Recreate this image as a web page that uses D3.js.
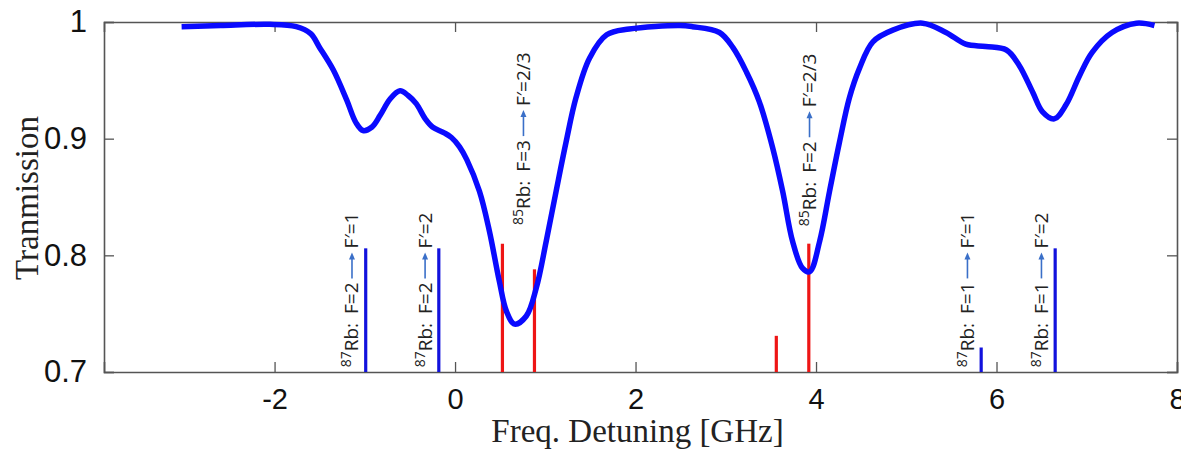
<!DOCTYPE html>
<html>
<head>
<meta charset="utf-8">
<script src="https://cdn.jsdelivr.net/npm/d3@7"></script>
<style>
  body { margin: 0; background: #fff; }
  svg { display: block; }
</style>
</head>
<body>
<div id="graphDiv"></div>
<script>
// transmission spectrum
var freq  = [-3.03, -2.6, -2.05, -1.76, -1.6, -1.5, -1.35, -1.2, -1.1, -1.02, -0.92, -0.83, -0.72, -0.61, -0.52, -0.43, -0.33, -0.25, -0.12, -0.04,
             0.05, 0.13, 0.27, 0.38, 0.49, 0.57, 0.66, 0.79, 0.9, 1.01, 1.12, 1.23, 1.34, 1.49, 1.68, 1.93, 2.49, 2.63, 2.93, 3.08,
             3.23, 3.37, 3.52, 3.63, 3.74, 3.85, 3.93, 4.04, 4.15, 4.26, 4.37, 4.48, 4.63, 4.85, 5.18, 5.44, 5.66, 5.88, 6.11, 6.25,
             6.4, 6.51, 6.64, 6.77, 6.92, 7.06, 7.28, 7.55, 7.75];
var trans = [0.996, 0.997, 0.998, 0.996, 0.99, 0.978, 0.959, 0.933, 0.914, 0.907, 0.910, 0.920, 0.934, 0.941, 0.937, 0.930, 0.917, 0.910, 0.905, 0.901,
             0.893, 0.882, 0.855, 0.821, 0.778, 0.752, 0.741, 0.748, 0.772, 0.812, 0.855, 0.897, 0.935, 0.969, 0.989, 0.994, 0.997, 0.996, 0.991, 0.978,
             0.957, 0.932, 0.892, 0.855, 0.812, 0.789, 0.786, 0.812, 0.855, 0.897, 0.935, 0.960, 0.983, 0.993, 0.999, 0.991, 0.981, 0.979, 0.976, 0.963,
             0.940, 0.923, 0.917, 0.929, 0.954, 0.974, 0.991, 0.999, 0.997];

// transition sticks
var rb87Freq = [-0.99, -0.18, 5.83, 6.65];
var rb87Top  = [0.806, 0.806, 0.721, 0.806];
var rb85Freq = [0.525, 0.88, 3.56, 3.92];
var rb85Top  = [0.810, 0.788, 0.731, 0.810];

// labels
var labelIso   = ["87", "87", "85", "85", "87", "87"];
var labelLower = ["F=2", "F=2", "F=3", "F=2", "F=1", "F=1"];
var labelUpper = ["F\u2032=1", "F\u2032=2", "F\u2032=2/3", "F\u2032=2/3", "F\u2032=1", "F\u2032=2"];
var labelFreq  = [-1.07, -0.26, 0.83, 4.0, 5.75, 6.57];
var labelStart = [0.704, 0.704, 0.826, 0.825, 0.704, 0.704];

var xTicks = [-2, 0, 2, 4, 6, 8];
var yTicks = [0.7, 0.8, 0.9, 1];

var outerWidth = 1181, outerHeight = 452;
var margin = {top: 22, right: 4, bottom: 80, left: 104},
    innerWidth = 1177 - margin.left,
    innerHeight = 372 - margin.top;

var svg = d3.select("#graphDiv")
    .append("svg")
    .attr("width", outerWidth)
    .attr("height", outerHeight)
    .append("g")
    .attr("transform", "translate(" + margin.left + "," + margin.top + ")");

var x = d3.scaleLinear().domain([-3.89, 8]).range([0, innerWidth]);
var y = d3.scaleLinear().domain([0.7, 1]).range([innerHeight, 0]);

var axisColor = "#555";

// bottom axis with inward ticks
var gx = svg.append("g")
    .attr("transform", "translate(0," + innerHeight + ")")
    .call(d3.axisBottom(x).tickValues(xTicks).tickSize(-10).tickPadding(16).tickFormat(function(d) { return String(d); }));
gx.selectAll("text")
    .style("font-family", "'Liberation Sans', Arial, sans-serif")
    .style("font-size", "29px")
    .attr("fill", "#111");

// left axis
var gy = svg.append("g")
    .call(d3.axisLeft(y).tickValues(yTicks).tickSize(-10).tickPadding(17).tickFormat(function(d) { return d === 1 ? "1" : d3.format(".1f")(d); }));
gy.selectAll("text")
    .style("font-family", "'Liberation Sans', Arial, sans-serif")
    .style("font-size", "31px")
    .attr("fill", "#111");

// top and right: ticks only
svg.append("g")
    .call(d3.axisTop(x).tickValues(xTicks).tickSize(-10).tickFormat(""));
svg.append("g")
    .attr("transform", "translate(" + innerWidth + ",0)")
    .call(d3.axisRight(y).tickValues(yTicks).tickSize(-10).tickFormat(""));

svg.selectAll(".domain").attr("stroke", axisColor).attr("stroke-width", 1.6);
svg.selectAll(".tick line").attr("stroke", axisColor).attr("stroke-width", 1.3);

// sticks
svg.selectAll("line.rb87")
    .data(rb87Freq)
    .enter()
    .append("line")
    .attr("class", "rb87")
    .attr("x1", function(d) { return x(d); })
    .attr("x2", function(d) { return x(d); })
    .attr("y1", y(0.7))
    .attr("y2", function(d, i) { return y(rb87Top[i]); })
    .attr("stroke", "#1212dd")
    .attr("stroke-width", 3.2);

svg.selectAll("line.rb85")
    .data(rb85Freq)
    .enter()
    .append("line")
    .attr("class", "rb85")
    .attr("x1", function(d) { return x(d); })
    .attr("x2", function(d) { return x(d); })
    .attr("y1", y(0.7))
    .attr("y2", function(d, i) { return y(rb85Top[i]); })
    .attr("stroke", "#ee1515")
    .attr("stroke-width", 3.2);

// spectrum
var pts = freq.map(function(f, i) { return [f, trans[i]]; });
svg.append("path")
    .datum(pts)
    .attr("fill", "none")
    .attr("stroke", "#0a0aff")
    .attr("stroke-width", 5.5)
    .attr("stroke-linejoin", "round")
    .attr("d", d3.line()
        .x(function(d) { return x(d[0]); })
        .y(function(d) { return y(d[1]); })
        .curve(d3.curveCatmullRom.alpha(0.5)));

// rotated transition labels: "^iso Rb:  F=a" + arrow + "F'=b"
var lblFont = "'Open Sans', 'Noto Sans', sans-serif";
var arrowColor = "#3a6fc8";
var groups = svg.selectAll("g.lbl")
    .data(labelIso)
    .enter()
    .append("g")
    .attr("class", "lbl")
    .attr("transform", function(d, i) { return "translate(" + x(labelFreq[i]) + "," + y(labelStart[i]) + ")rotate(-90)"; });

groups.each(function(d, i) {
    var g = d3.select(this);
    var t1 = g.append("text")
        .style("font-family", lblFont)
        .style("font-size", "19px")
        .attr("fill", "#222");
    t1.append("tspan").attr("dy", -7).style("font-size", "14px").text(d);
    t1.append("tspan").attr("dy", 7).text("Rb:");
    t1.append("tspan").attr("dx", 9).text(labelLower[i]);
    var bb = t1.node().getBBox();
    var len = bb.x + bb.width;
    var a0 = len + 4, a1 = len + 30;
    g.append("line")
        .attr("x1", a0).attr("x2", a1 - 5)
        .attr("y1", -6.5).attr("y2", -6.5)
        .attr("stroke", arrowColor)
        .attr("stroke-width", 1.6);
    g.append("path")
        .attr("d", "M" + a1 + "," + (-6.5) + "L" + (a1 - 7) + "," + (-9.5) + "L" + (a1 - 7) + "," + (-3.5) + "Z")
        .attr("fill", arrowColor);
    g.append("text")
        .attr("x", a1 + 4)
        .style("font-family", lblFont)
        .style("font-size", "19px")
        .attr("fill", "#222")
        .text(labelUpper[i]);
});

// axis titles
svg.append("text")
    .attr("x", innerWidth / 2 - 3)
    .attr("y", innerHeight + 70)
    .attr("text-anchor", "middle")
    .style("font-family", "'Liberation Serif', 'Times New Roman', serif")
    .style("font-size", "33px")
    .attr("fill", "#222")
    .text("Freq. Detuning [GHz]");

svg.append("text")
    .attr("transform", "translate(" + (38 - margin.left) + "," + (innerHeight / 2 + 1) + ")rotate(-90)")
    .attr("text-anchor", "middle")
    .style("font-family", "'Liberation Serif', 'Times New Roman', serif")
    .style("font-size", "33px")
    .attr("fill", "#222")
    .text("Tranmission");
</script>
</body>
</html>
